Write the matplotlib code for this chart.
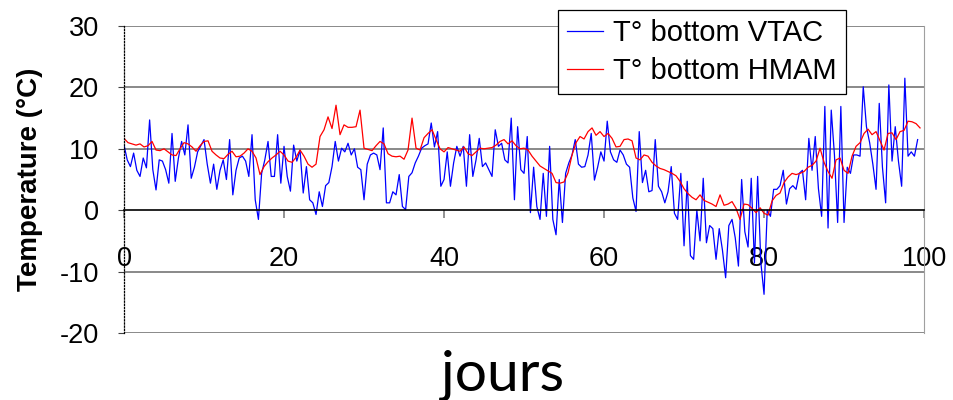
import numpy as np
import matplotlib.pyplot as plt

# sampling of the two loggers (days between readings)
VTAC_STEP = 0.4
HMAM_STEP = 0.5

# T° bottom VTAC, every 0.4 day from day 0
vtac_temp = [
    10.6, 8.2, 7.1, 9.3, 6.5, 5.5, 8.5, 6.9, 14.7, 6.6,
    3.3, 8.2, 8.0, 6.6, 4.4, 12.5, 4.7, 8.5, 11.2, 9.0,
    13.9, 5.2, 7.0, 9.5, 10.5, 11.5, 7.5, 4.4, 7.5, 3.4,
    6.5, 8.2, 5.0, 11.5, 2.5, 6.5, 8.5, 8.8, 8.0, 5.5,
    12.3, 1.7,
    -1.5, 6.0, 8.2, 11.2, 5.5, 5.5, 12.3, 4.4, 10.4, 5.5,
    3.1, 10.6, 8.0, 9.8, 2.8, 7.1, 1.7, 1.2, -0.7, 3.0,
    0.6, 4.0, 4.5, 7.1, 11.2, 8.0, 10.1, 9.5, 10.9, 9.0,
    10.0, 7.0, 6.6, 1.7, 7.5, 9.0, 9.3, 9.0, 6.6, 13.4,
    1.2, 1.2,
    3.0, 2.5, 5.8, 0.6, 0.1, 5.5, 6.1, 7.7, 8.8, 10.1,
    10.5, 10.8, 14.2, 10.3, 12.8, 3.9, 5.0, 9.5, 3.9, 7.7,
    10.4, 8.8, 10.4, 3.9, 12.3, 5.5, 8.2, 11.7, 7.1, 7.7,
    6.6, 5.5, 13.1, 10.4, 10.9, 8.2, 7.7, 15.0, 1.7, 13.6,
    6.6,
    6.0, 12.0, -0.4, 7.0, 0.6, -1.5, 6.0, -1.0, 10.4, -1.5,
    -4.0, 5.0, -2.0, 6.0, 7.7, 9.0, 11.5, 7.5, 7.0, 7.1,
    9.0, 12.5, 4.9, 7.0, 9.5, 8.0, 14.5, 9.5, 8.2, 7.8,
    9.8, 9.0, 7.5, 7.0, 2.0, -0.2, 12.8, 4.5, 6.5, 3.0,
    3.2,
    11.5, 3.9, 3.0, 1.2, 3.0, 7.1, -0.5, -1.5, 6.0, -5.8,
    4.7, -7.4, -8.0, 0.0, -5.0, 5.2, -5.3, -2.5, -3.0, -8.0,
    -3.0, -6.5, -11.0, -2.5, -1.5, -4.5, -9.1, 5.0, -3.5, -6.0,
    5.2, -8.6, 5.5, -8.5, -13.7, 0.0, -1.0, 3.4, 3.4, 4.0,
    6.5,
    1.0, 3.5, 4.0, 3.4, 6.0, 6.5, 1.7, 11.7, 6.5, 12.0,
    3.5, -1.0, 16.9, -2.9, 16.3, 9.0, -2.0, 16.9, -2.0, 7.0,
    6.0, 9.0, 9.0, 8.8, 20.1, 13.6, 11.0, 7.5, 3.4, 17.4,
    7.0, 1.2, 20.4, 8.0, 13.6, 8.0, 3.9, 21.5, 8.8, 9.5,
    8.8, 11.5,
]

# T° bottom HMAM, every 0.5 day from day 0
hmam_temp = [
    11.7, 11.0, 10.8, 10.6, 10.8, 10.3, 10.5, 11.2, 9.8, 9.7,
    10.0, 9.5, 9.0, 8.9, 10.0, 11.0, 10.8, 10.3, 9.6, 10.5,
    11.2, 11.3, 9.6, 9.0, 8.5, 8.4, 9.1, 9.6, 8.7, 8.8,
    9.3, 10.0, 9.6, 8.5, 5.8, 7.1, 7.9, 8.5, 9.0, 9.6,
    9.0, 8.0, 7.8, 8.6, 9.8, 8.8, 7.5, 7.0, 7.5, 12.0,
    13.1, 15.2, 13.3, 17.1, 12.3, 13.9, 13.5, 13.5, 13.6, 16.3,
    10.1, 9.9, 9.7, 10.5, 11.2, 10.8, 9.2, 8.8, 8.7, 8.8,
    8.3, 9.8, 15.0, 10.1, 9.8, 11.8, 12.5, 13.1, 11.5, 10.0,
    9.5, 10.2, 10.0, 9.8, 9.6, 10.3, 9.2, 8.9, 9.5, 10.1,
    10.0, 10.1, 10.2, 10.6, 11.2, 11.5, 10.8, 11.3, 10.5, 10.0,
    10.1, 9.8, 8.8, 8.0, 7.2, 6.8, 6.4, 6.0, 4.5, 4.4,
    4.6, 6.1, 9.0, 11.0, 12.0, 11.6, 12.8, 13.4, 12.2, 12.8,
    12.0, 12.5, 11.7, 10.3, 10.4, 11.5, 11.6, 11.3, 8.5, 8.2,
    9.0, 8.8, 7.8, 7.2, 6.8, 6.6, 6.3, 6.0, 5.6, 4.7,
    3.5, 2.7, 2.1, 1.7, 2.5, 1.6, 1.3, 1.0, 0.6, 2.5,
    0.8, 1.0, 1.4, 0.3, -1.5, 1.0, 0.9, 0.3, -0.4, 0.4,
    -0.5, -0.8, 1.5, 2.4, 2.8, 4.5, 5.4, 6.0, 5.8, 6.0,
    6.3, 7.0, 7.3, 8.0, 10.1, 7.8, 6.3, 5.2, 8.2, 8.5,
    6.5, 6.0, 8.8, 10.4, 11.0, 12.5, 13.2, 12.3, 12.8, 11.3,
    9.8, 12.5, 12.6, 11.5, 12.8, 13.0, 14.5, 14.4, 14.1, 13.4,
]

x_ticks = [0, 20, 40, 60, 80, 100]
y_ticks = [-20, -10, 0, 10, 20, 30]
labels = ["T° bottom VTAC", "T° bottom HMAM"]

vtac_days = np.arange(len(vtac_temp)) * VTAC_STEP
hmam_days = np.arange(len(hmam_temp)) * HMAM_STEP

plt.rcParams['font.family'] = ['Liberation Sans', 'DejaVu Sans']
plt.rcParams['axes.unicode_minus'] = False

fig = plt.figure(figsize=(9.54, 4.0), dpi=100)
ax = fig.add_axes([0.13, 0.1675, 0.8386, 0.7675])

ax.plot(vtac_days, vtac_temp, color="#0000ff", lw=0.9, label=labels[0])
ax.plot(hmam_days, hmam_temp, color="#ff0000", lw=0.9, label=labels[1])

ax.set_xlim(0, 100)
ax.set_ylim(-20, 30)
ax.set_xticks(x_ticks)
ax.set_yticks(y_ticks)

for yv in y_ticks:
    if yv != 0:
        ax.axhline(yv, color="#808080", lw=1.3, zorder=0)

ax.spines["top"].set_visible(False)
ax.spines["right"].set_color("#a0a0a0")
ax.spines["left"].set_linestyle((0, (1, 1.5)))
ax.spines["left"].set_linewidth(0.9)
ax.spines["bottom"].set_position(("data", 0))
ax.spines["bottom"].set_linewidth(1.2)

ax.tick_params(axis="x", direction="out", length=6, width=1.2, color="#808080",
               pad=20, labelsize=19.5)
ax.tick_params(axis="y", direction="out", length=4, width=0.8, color="#404040",
               pad=14, labelsize=19.5)

ax.set_ylabel("Temperature (°C)", fontsize=20, fontweight="bold", labelpad=12)
fig.text(0.527, 0.063, "jours", fontsize=41, family=["Lato", "DejaVu Sans"],
         ha="center", va="center")

leg = ax.legend(loc="upper left", bbox_to_anchor=(558 / 954, 1 - 10 / 400),
                bbox_transform=fig.transFigure, fontsize=21, frameon=True,
                fancybox=False, framealpha=1, edgecolor="black",
                handlelength=1.25, handletextpad=0.35, borderpad=0.3,
                labelspacing=0.35, borderaxespad=0)
leg.get_frame().set_linewidth(0.9)
leg.set_zorder(5)

fig.savefig("out.png", dpi=100)
